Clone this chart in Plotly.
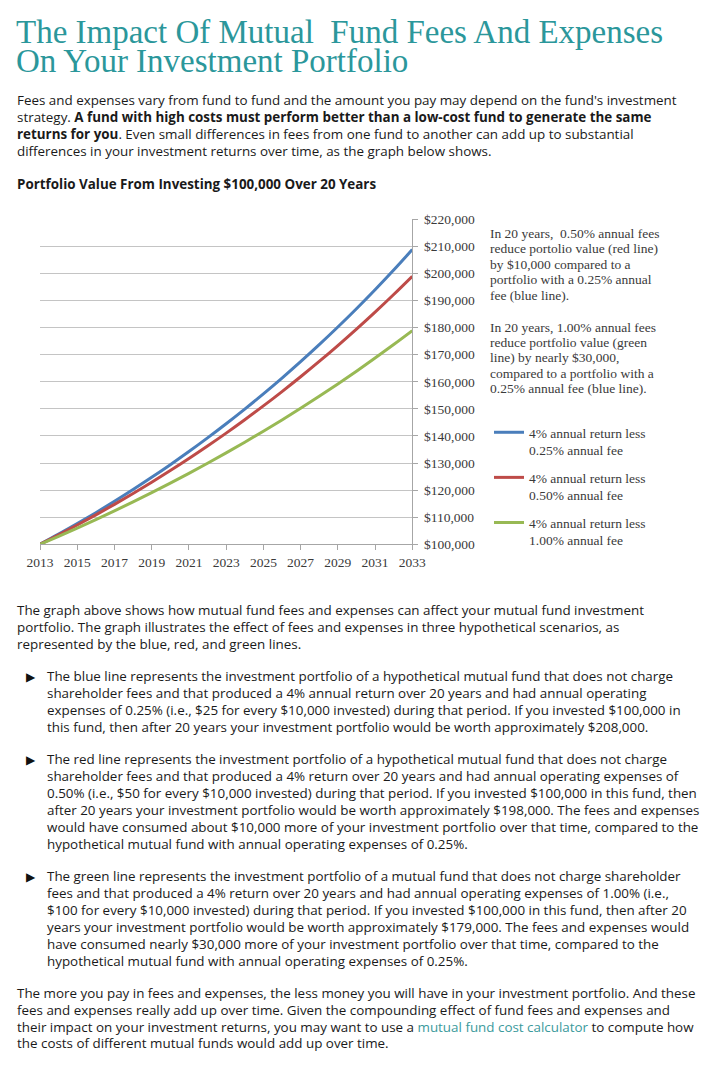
import plotly.graph_objects as go

W, H = 719, 1068
OFF = 8  # the page body margin shifts the figure by this many pixels

years = list(range(2013, 2034))
blue_values = [100000, 103750, 107641, 111677, 115865, 120210, 124718, 129395, 134247, 139282,
               144504, 149923, 155545, 161378, 167430, 173709, 180223, 186981, 193993, 201268, 208815]
red_values = [100000, 103500, 107123, 110872, 114752, 118769, 122926, 127228, 131681, 136290,
              141060, 145997, 151107, 156396, 161869, 167535, 173399, 179468, 185749, 192250, 198979]
green_values = [100000, 102950, 105987, 109114, 112333, 115646, 119058, 122570, 126186, 129908,
                133741, 137686, 141748, 145929, 150234, 154666, 159229, 163926, 168762, 173740, 178865]
series_names = ["4% annual return less<br>0.25% annual fee",
                "4% annual return less<br>0.50% annual fee",
                "4% annual return less<br>1.00% annual fee"]
series_colors = ["#4a7ebb", "#be4b48", "#98b954"]
x_tick_years = list(range(2013, 2034, 2))
y_ticks = list(range(100000, 220001, 10000))

title_lines = ["The Impact Of Mutual&nbsp; Fund Fees And Expenses", "On Your Investment Portfolio"]
intro_lines = [
    "Fees and expenses vary from fund to fund and the amount you pay may depend on the fund's investment",
    "strategy. <b>A fund with high costs must perform better than a low-cost fund to generate the same</b>",
    "<b>returns for you</b>. Even small differences in fees from one fund to another can add up to substantial",
    "differences in your investment returns over time, as the graph below shows.",
]
chart_heading = "<b>Portfolio Value From Investing $100,000 Over 20 Years</b>"
note1_lines = ["In 20 years,&nbsp; 0.50% annual fees", "reduce portolio value (red line)",
               "by $10,000 compared to a", "portfolio with a 0.25% annual", "fee (blue line)."]
note2_lines = ["In 20 years, 1.00% annual fees", "reduce portfolio value (green",
               "line) by nearly $30,000,", "compared to a portfolio with a", "0.25% annual fee (blue line)."]
para2_lines = [
    "The graph above shows how mutual fund fees and expenses can affect your mutual fund investment",
    "portfolio. The graph illustrates the effect of fees and expenses in three hypothetical scenarios, as",
    "represented by the blue, red, and green lines.",
]
bullets = [
    ["The blue line represents the investment portfolio of a hypothetical mutual fund that does not charge",
     "shareholder fees and that produced a 4% annual return over 20 years and had annual operating",
     "expenses of 0.25% (i.e., $25 for every $10,000 invested) during that period. If you invested $100,000 in",
     "this fund, then after 20 years your investment portfolio would be worth approximately $208,000."],
    ["The red line represents the investment portfolio of a hypothetical mutual fund that does not charge",
     "shareholder fees and that produced a 4% return over 20 years and had annual operating expenses of",
     "0.50% (i.e., $50 for every $10,000 invested) during that period. If you invested $100,000 in this fund, then",
     "after 20 years your investment portfolio would be worth approximately $198,000. The fees and expenses",
     "would have consumed about $10,000 more of your investment portfolio over that time, compared to the",
     "hypothetical mutual fund with annual operating expenses of 0.25%."],
    ["The green line represents the investment portfolio of a mutual fund that does not charge shareholder",
     "fees and that produced a 4% return over 20 years and had annual operating expenses of 1.00% (i.e.,",
     "$100 for every $10,000 invested) during that period. If you invested $100,000 in this fund, then after 20",
     "years your investment portfolio would be worth approximately $179,000. The fees and expenses would",
     "have consumed nearly $30,000 more of your investment portfolio over that time, compared to the",
     "hypothetical mutual fund with annual operating expenses of 0.25%."],
]
final_lines = [
    "The more you pay in fees and expenses, the less money you will have in your investment portfolio. And these",
    "fees and expenses really add up over time. Given the compounding effect of fund fees and expenses and",
    "their impact on your investment returns, you may want to use a <span style='color:#3a9a9c'>mutual fund cost calculator</span> to compute how",
    "the costs of different mutual funds would add up over time.",
]

SANS = "Open Sans"
SERIF = "Liberation Serif"
TEXT = "#1a1a1a"
CHART_TEXT = "#3a3a3a"
BODY = 13.4
CH = 13.5


def px_x(x):
    return (x - OFF) / W


def px_y(y):
    return 1 - (y - OFF) / H


fig = go.Figure()
for vals, name, col in zip([blue_values, red_values, green_values], series_names, series_colors):
    fig.add_trace(go.Scatter(x=years, y=vals, mode="lines", name=name, legendgroup=name,
                             line=dict(color=col, width=3, shape="spline")))

annotations = []


def add_line(text, xpx, ypx, size, family, color=TEXT):
    annotations.append(dict(text=text, x=px_x(xpx), y=px_y(ypx), xref="paper", yref="paper",
                            xanchor="left", yanchor="middle", showarrow=False,
                            font=dict(size=size, family=family, color=color), borderpad=0))


for i, t in enumerate(title_lines):
    add_line(t, 15, 32 + i * 29, 33, SERIF, "#2b979b")
for i, t in enumerate(intro_lines):
    add_line(t, 16, 100 + i * 17, BODY, SANS)
add_line(chart_heading, 16, 184, BODY, SANS)
for i, t in enumerate(note1_lines):
    add_line(t, 489, 233 + i * 15.6, CH, SERIF, CHART_TEXT)
for i, t in enumerate(note2_lines):
    add_line(t, 489, 327 + i * 15.4, CH, SERIF, CHART_TEXT)
for i, t in enumerate(para2_lines):
    add_line(t, 16, 610 + i * 16.8, BODY, SANS)
bullet_starts = [676, 759, 876]
for start, lines in zip(bullet_starts, bullets):
    add_line("\u25B6", 25, start, 12, SANS, "#111111")
    for i, t in enumerate(lines):
        add_line(t, 46, start + i * 16.9, BODY, SANS)
for i, t in enumerate(final_lines):
    add_line(t, 16, 993 + i * 16.8, BODY, SANS)

x0, x1 = px_x(40), px_x(412.3)
y0, y1 = px_y(544.3), px_y(219.3)

fig.update_layout(
    width=W, height=H,
    margin=dict(l=0, r=0, t=0, b=0, autoexpand=False),
    paper_bgcolor="white", plot_bgcolor="white",
    showlegend=True,
    legend=dict(x=px_x(489), y=px_y(417), xanchor="left", yanchor="top",
                font=dict(family=SERIF, size=CH, color=CHART_TEXT),
                traceorder="grouped", tracegroupgap=7, itemwidth=30, valign="top",
                bgcolor="rgba(0,0,0,0)"),
    xaxis=dict(domain=[x0, x1], range=[2013, 2033], tickvals=x_tick_years, automargin=False,
               ticks="outside", ticklen=5, tickcolor="#a6a6a6", showline=True,
               linecolor="#a6a6a6", linewidth=1, showgrid=False, zeroline=False,
               tickfont=dict(family=SERIF, size=CH, color=CHART_TEXT)),
    yaxis=dict(domain=[y0, y1], range=[100000, 220000], tickvals=y_ticks, automargin=False,
               tickformat="$,.0f", side="right", ticks="outside", ticklen=5, ticklabelstandoff=3,
               tickcolor="#a6a6a6", showline=True, linecolor="#a6a6a6", linewidth=1,
               showgrid=True, gridcolor="#c4c4c4", gridwidth=1, zeroline=False,
               tickfont=dict(family=SERIF, size=CH, color=CHART_TEXT)),
    annotations=annotations,
)

fig.write_html("out.html")
